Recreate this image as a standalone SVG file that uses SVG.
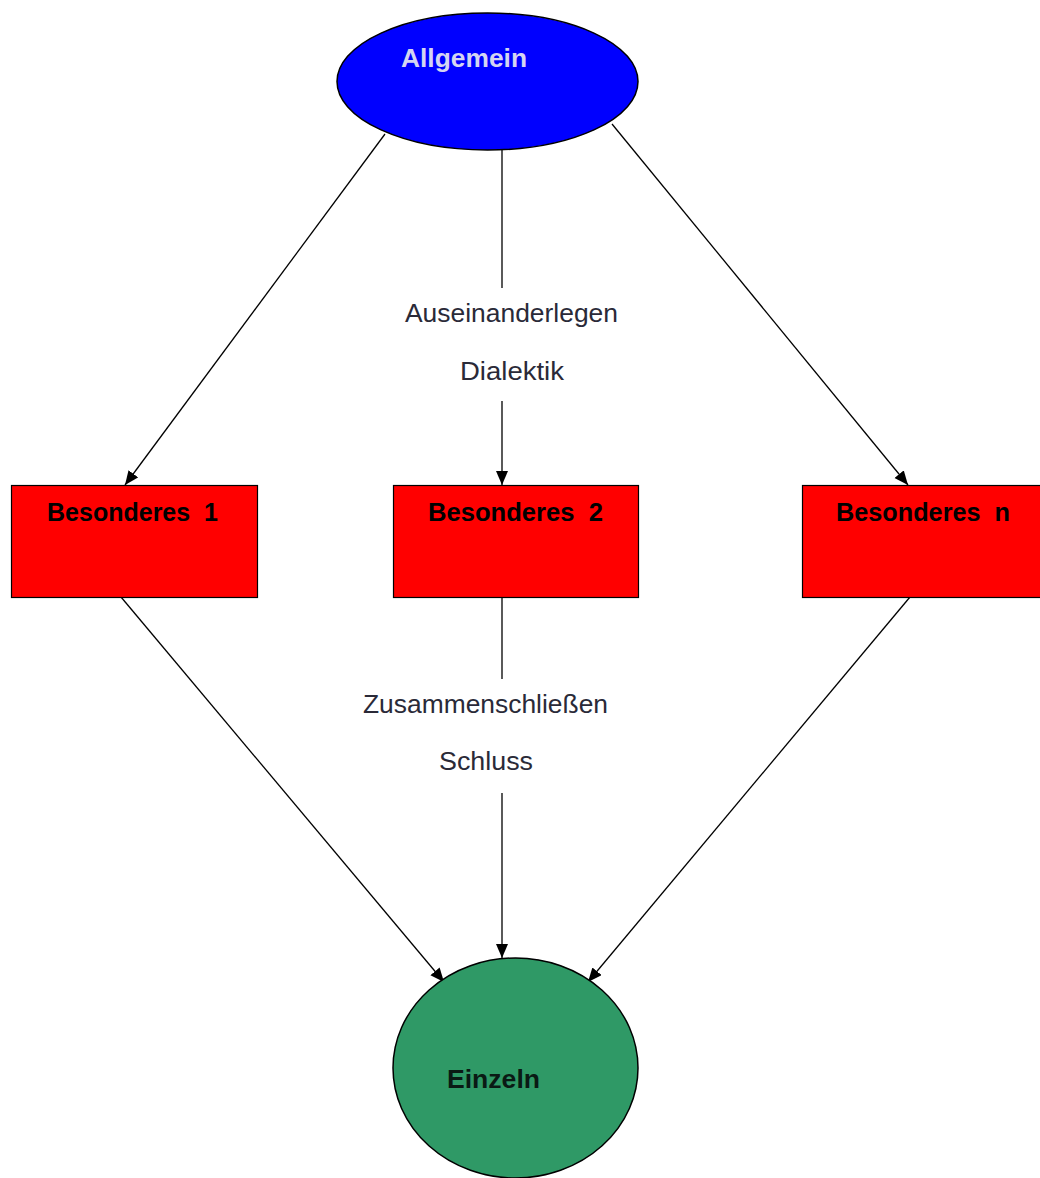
<svg xmlns="http://www.w3.org/2000/svg" width="1040" height="1178" viewBox="0 0 1040 1178">
<style>
.node-label{font-family:"Liberation Sans",Arial,sans-serif;font-weight:bold;font-size:25px;fill:#000}
.edge-label{font-family:"Liberation Sans",Arial,sans-serif;font-size:25px;fill:#2a2a38}
.edge{stroke:#000;stroke-width:1.3;fill:none}
.box{fill:#ff0000;stroke:#000;stroke-width:1.2}
</style>
<defs>
<marker id="arrow" markerUnits="userSpaceOnUse" markerWidth="16" markerHeight="14" refX="14" refY="6" orient="auto">
<path d="M0,0 L14,6 L0,12 Z" fill="#000"/>
</marker>
</defs>
<rect width="1040" height="1178" fill="#fff"/>
<g id="connectors">
<line class="edge" x1="385" y1="134" x2="125" y2="485" marker-end="url(#arrow)"/>
<line class="edge" x1="502" y1="150" x2="502" y2="288"/>
<line class="edge" x1="502" y1="401" x2="502" y2="485" marker-end="url(#arrow)"/>
<line class="edge" x1="612" y1="124" x2="908" y2="485" marker-end="url(#arrow)"/>
<line class="edge" x1="121" y1="597" x2="444" y2="982" marker-end="url(#arrow)"/>
<line class="edge" x1="502" y1="597" x2="502" y2="679"/>
<line class="edge" x1="502" y1="793" x2="502" y2="958" marker-end="url(#arrow)"/>
<line class="edge" x1="910" y1="597" x2="588" y2="982" marker-end="url(#arrow)"/>
<text class="edge-label" x="405" y="322" textLength="213" lengthAdjust="spacingAndGlyphs">Auseinanderlegen</text>
<text class="edge-label" x="460" y="380" textLength="104" lengthAdjust="spacingAndGlyphs">Dialektik</text>
<text class="edge-label" x="363" y="713" textLength="245" lengthAdjust="spacingAndGlyphs">Zusammenschließen</text>
<text class="edge-label" x="439" y="770" textLength="94" lengthAdjust="spacingAndGlyphs">Schluss</text>
</g>
<g id="allgemein">
<ellipse cx="487.5" cy="81.5" rx="150.5" ry="68.5" fill="#0000ff" stroke="#000" stroke-width="1.5"/>
<text class="node-label" x="401" y="67" font-size="26" style="fill:#d4d4f2" textLength="126" lengthAdjust="spacingAndGlyphs">Allgemein</text>
</g>
<g id="besonderes1">
<rect class="box" x="11.5" y="485.5" width="246" height="112"/>
<text class="node-label" x="47" y="521" textLength="171" lengthAdjust="spacingAndGlyphs" xml:space="preserve">Besonderes  1</text>
</g>
<g id="besonderes2">
<rect class="box" x="393.5" y="485.5" width="245" height="112"/>
<text class="node-label" x="428" y="521" textLength="175" lengthAdjust="spacingAndGlyphs" xml:space="preserve">Besonderes  2</text>
</g>
<g id="besonderesn">
<rect class="box" x="802.5" y="485.5" width="246" height="112"/>
<text class="node-label" x="836" y="521" textLength="174" lengthAdjust="spacingAndGlyphs" xml:space="preserve">Besonderes  n</text>
</g>
<g id="einzeln">
<ellipse cx="515.5" cy="1068" rx="122.5" ry="110" fill="#2f9966" stroke="#000" stroke-width="1.5"/>
<text class="node-label" x="447" y="1088" font-size="26" style="fill:#0a1a14" textLength="93" lengthAdjust="spacingAndGlyphs">Einzeln</text>
</g>
</svg>
